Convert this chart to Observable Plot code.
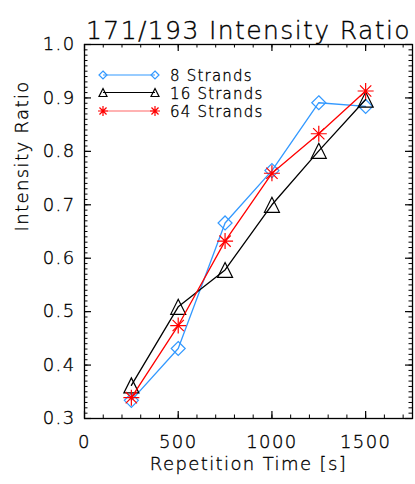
<!DOCTYPE html>
<html><head><meta charset="utf-8">
<script src="https://cdn.jsdelivr.net/npm/d3@7"></script>
<script src="https://cdn.jsdelivr.net/npm/@observablehq/plot@0.6"></script>
<style>
body{margin:0;background:#fff}
#chart svg{font-family:"DejaVu Sans",sans-serif;overflow:visible}
#chart svg text{font-weight:200;fill:#000;stroke:#000;stroke-width:0.35px}
</style>
</head><body><div id="chart"></div>
<script>
// ---- data ----
const titleText = "171/193 Intensity Ratio";
const xLabel = "Repetition Time [s]";
const yLabel = "Intensity Ratio";
const repTimes = [250, 500, 750, 1000, 1250, 1500];
const seriesNames = ["8 Strands", "16 Strands", "64 Strands"];
const ratio8  = [0.334, 0.431, 0.666, 0.764, 0.891, 0.884];
const ratio16 = [0.362, 0.509, 0.578, 0.700, 0.801, 0.897];
const ratio64 = [0.339, 0.474, 0.632, 0.759, 0.833, 0.913];
const seriesColors = ["#3399ff", "#000000", "#ff0000"];
const xTicks = [0, 500, 1000, 1500];
const yTicks = [0.3, 0.4, 0.5, 0.6, 0.7, 0.8, 0.9, 1.0];

// ---- symbols ----
const rad = s => Math.sqrt(s / Math.PI);
const symDiamond = {draw(c, s){const r = rad(s); c.moveTo(0,-r); c.lineTo(r,0); c.lineTo(0,r); c.lineTo(-r,0); c.closePath();}};
const symTriangle = {draw(c, s){const r = rad(s); c.moveTo(0,-r); c.lineTo(r,r); c.lineTo(-r,r); c.closePath();}};
const symStar = {draw(c, s){const r = rad(s), d = r*Math.SQRT1_2;
  c.moveTo(0,-r); c.lineTo(0,r); c.moveTo(-r,0); c.lineTo(r,0);
  c.moveTo(-d,-d); c.lineTo(d,d); c.moveTo(-d,d); c.lineTo(d,-d);}};
const symbols = [symDiamond, symTriangle, symStar];
const symR = [7, 7.5, 8];
const legR = [4, 4, 5];

const seriesValues = [ratio8, ratio16, ratio64];
const rows = [];
seriesNames.forEach((name, si) => repTimes.forEach((t, i) => rows.push({t, v: seriesValues[si][i], s: name, si})));

const W = 415, H = 484, mL = 84, mR = 3, mT = 44, mB = 66;
const pw = W - mL - mR, ph = H - mT - mB;
const xMinor = d3.range(0, 1751, 100);
const yMinor = d3.range(30, 101, 1).map(d => d / 100);

const marks = [
  Plot.frame({stroke: "black", strokeWidth: 1.3}),
  Plot.tickX(xMinor, {x: d => d, insetTop: ph - 3.5, stroke: "black"}),
  Plot.tickX(xTicks, {x: d => d, insetTop: ph - 7, stroke: "black", strokeWidth: 1.2}),
  Plot.tickX(xMinor, {x: d => d, insetBottom: ph - 3.5, stroke: "black"}),
  Plot.tickX(xTicks, {x: d => d, insetBottom: ph - 7, stroke: "black", strokeWidth: 1.2}),
  Plot.tickY(yMinor, {y: d => d, insetRight: pw - 3.5, stroke: "black"}),
  Plot.tickY(yTicks, {y: d => d, insetRight: pw - 7, stroke: "black", strokeWidth: 1.2}),
  Plot.tickY(yMinor, {y: d => d, insetLeft: pw - 3.5, stroke: "black"}),
  Plot.tickY(yTicks, {y: d => d, insetLeft: pw - 7, stroke: "black", strokeWidth: 1.2}),
  Plot.axisX({ticks: xTicks, tickSize: 0, tickPadding: 17, fontSize: 18, label: null, tickFormat: d => String(d)}),
  Plot.axisY({ticks: yTicks, tickSize: 0, tickPadding: 9, fontSize: 18, label: null, tickFormat: d3.format(".1f")}),
];
seriesNames.forEach((name, si) => {
  const data = rows.filter(r => r.si === si);
  marks.push(Plot.line(data, {x: "t", y: "v", stroke: seriesColors[si], strokeWidth: 1.3}));
  marks.push(Plot.dot(data, {x: "t", y: "v", symbol: symbols[si], r: symR[si], fill: "none", stroke: seriesColors[si], strokeWidth: 1.2}));
});
marks.push(Plot.text([titleText], {frameAnchor: "top", dy: -23, fontSize: 25, text: d => d}));
marks.push(Plot.text([xLabel], {frameAnchor: "bottom", dy: 51, fontSize: 18, text: d => d}));
marks.push(Plot.text([yLabel], {frameAnchor: "left", dx: -62, rotate: -90, fontSize: 18, text: d => d}));

const chart = Plot.plot({
  width: W, height: H,
  marginLeft: mL, marginRight: mR, marginTop: mT, marginBottom: mB,
  x: {domain: [0, 1750]},
  y: {domain: [0.3, 1.0]},
  style: {fontFamily: "DejaVu Sans", color: "black", background: "white"},
  marks
});
document.getElementById("chart").appendChild(chart);

d3.select(chart).selectAll("text").style("letter-spacing", "1.4px");

// legend inside plot
const svg = d3.select(chart);
const lg = svg.append("g").attr("fill", "none");
const rowY = [75, 92.5, 111];
seriesNames.forEach((name, si) => {
  const y = rowY[si];
  lg.append("line").attr("x1", 103).attr("x2", 155).attr("y1", y).attr("y2", y)
    .attr("stroke", seriesColors[si]).attr("stroke-width", 1.2).attr("stroke-opacity", si === 2 ? 0.6 : 1);
  [103, 155].forEach(x => {
    lg.append("path").attr("transform", `translate(${x},${y})`)
      .attr("d", d3.symbol(symbols[si], Math.PI * legR[si] * legR[si])())
      .attr("stroke", seriesColors[si]).attr("stroke-width", 1.2).attr("fill", "none");
  });
  lg.append("text").attr("x", 170).attr("y", y + 6)
    .attr("text-anchor", "start").attr("font-size", 15)
    .style("letter-spacing", "1.2px").text(name);
});
</script>
</body></html>
